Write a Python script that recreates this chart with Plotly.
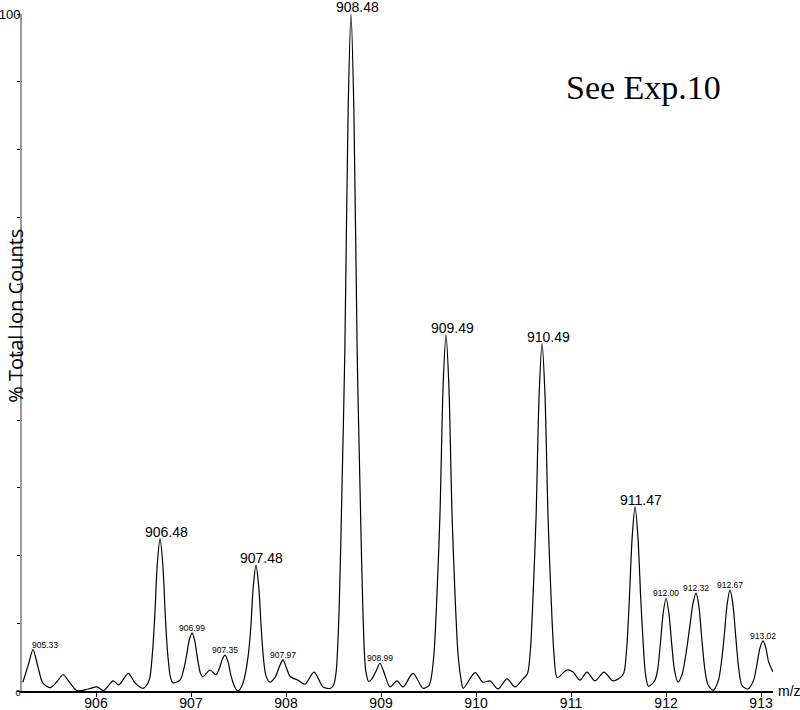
"""
Mass spectrum (profile) - % Total Ion Counts vs m/z
"""

import plotly.graph_objects as go

# profile trace (m/z, % total ion counts)
mz = [
    905.23, 905.29, 905.337, 905.39, 905.44, 905.516, 905.59, 905.653, 905.72, 905.80,
    905.92, 906.01, 906.08, 906.18, 906.24, 906.34, 906.41, 906.495, 906.53, 906.564,
    906.594, 906.619, 906.644, 906.674, 906.704, 906.729, 906.754, 906.784, 906.81, 906.884,
    906.93, 906.956, 906.981, 907.011, 907.041, 907.066, 907.10, 907.126, 907.20, 907.263,
    907.30, 907.33, 907.358, 907.39, 907.42, 907.46, 907.495, 907.53, 907.56, 907.60,
    907.629, 907.654, 907.684, 907.714, 907.739, 907.764, 907.79, 907.83, 907.884, 907.93,
    907.968, 908.0, 908.04, 908.074, 908.126, 908.20, 908.295, 908.39, 908.47, 908.504,
    908.529, 908.559, 908.589, 908.619, 908.654, 908.684, 908.714, 908.749, 908.779, 908.809,
    908.839, 908.87, 908.905, 908.95, 908.989, 909.03, 909.095, 909.168, 909.232, 909.337,
    909.442, 909.504, 909.529, 909.559, 909.589, 909.621, 909.654, 909.684, 909.714, 909.747,
    909.779, 909.809, 909.839, 909.866, 909.99, 910.074, 910.147, 910.232, 910.326, 910.41,
    910.495, 910.54, 910.57, 910.60, 910.632, 910.665, 910.695, 910.725, 910.758, 910.79,
    910.82, 910.855, 910.958, 911.021, 911.095, 911.168, 911.253, 911.347, 911.442, 911.547,
    911.584, 911.614, 911.644, 911.674, 911.704, 911.734, 911.764, 911.784, 911.815, 911.88,
    911.91, 911.94, 911.97, 912.0, 912.03, 912.06, 912.09, 912.126, 912.17, 912.21,
    912.25, 912.285, 912.316, 912.346, 912.376, 912.406, 912.44, 912.495, 912.55, 912.585,
    912.615, 912.645, 912.674, 912.704, 912.734, 912.764, 912.80, 912.863, 912.92, 912.955,
    912.99, 913.021, 913.05, 913.08, 913.126,
]
counts = [
    1.3, 4.0, 6.1, 3.5, 1.2, 0.5, 1.4, 2.4, 1.3, 0.05,
    0.3, 0.6, 0.05, 1.5, 0.9, 2.6, 1.2, 0.4, 0.8, 1.8,
    5.6, 11.2, 18.5, 22.5, 18.5, 11.2, 5.6, 2.0, 1.2, 1.6,
    3.6, 5.5, 7.5, 8.6, 7.3, 5.0, 2.6, 2.1, 3.1, 2.4,
    3.4, 4.7, 5.3, 4.3, 2.3, 0.6, 0.0, 0.6, 1.8, 5.0,
    9.3, 15.2, 18.6, 15.2, 9.3, 4.6, 2.2, 1.3, 2.0, 3.6,
    4.6, 3.6, 2.2, 1.9, 1.6, 1.0, 2.8, 0.6, 0.4, 1.0,
    3.0, 12.0, 30.0, 50.0, 86.0, 100.0, 86.0, 50.0, 30.0, 12.0,
    3.0, 1.4, 1.8, 3.0, 4.1, 2.8, 0.6, 1.5, 0.6, 2.6,
    0.4, 0.8, 2.0, 5.8, 14.2, 26.3, 45.2, 52.6, 45.2, 26.3,
    14.2, 5.8, 2.0, 0.4, 2.7, 1.3, 1.5, 0.3, 1.8, 0.6,
    1.8, 2.5, 5.6, 13.9, 25.7, 44.1, 51.3, 44.1, 25.7, 13.9,
    5.6, 2.0, 3.1, 2.8, 1.6, 2.8, 1.5, 2.8, 1.5, 2.4,
    6.0, 13.6, 22.8, 27.2, 22.8, 13.6, 6.0, 2.5, 0.7, 1.5,
    3.0, 6.9, 11.5, 13.7, 11.5, 6.9, 3.0, 1.3, 2.5, 5.5,
    9.5, 13.0, 14.5, 12.5, 7.8, 3.5, 1.0, 0.1, 1.5, 4.5,
    8.5, 13.0, 14.9, 12.8, 8.0, 3.5, 0.8, 0.3, 1.5, 3.8,
    6.4, 7.4, 6.4, 4.3, 2.8,
]

# peak labels: text, peak position, peak height
major_labels = ['906.48', '907.48', '908.48', '909.49', '910.49', '911.47']
major_x = [906.674, 907.684, 908.684, 909.684, 910.695, 911.674]
major_y = [22.5, 18.6, 100.0, 52.6, 51.3, 27.2]

minor_labels = ['905.33', '906.99', '907.35', '907.97', '908.99',
                '912.00', '912.32', '912.67', '913.02']
minor_x = [905.337, 907.011, 907.358, 907.968, 908.989,
           912.0, 912.316, 912.674, 913.021]
minor_y = [6.1, 8.6, 5.3, 4.6, 4.1, 13.7, 14.5, 14.9, 7.4]

x_ticks = [906, 907, 908, 909, 910, 911, 912, 913]
y_ticks = [0, 10, 20, 30, 40, 50, 60, 70, 80, 90, 100]
y_ticktext = ['<span style="font-size:9px">0</span>', '', '', '', '', '',
              '', '', '', '', '100']

fig = go.Figure()

fig.add_trace(
    go.Scatter(
        x=mz,
        y=counts,
        mode='lines',
        line=dict(color='black', width=1.2, shape='spline', smoothing=0.8),
        showlegend=False,
        hoverinfo='skip',
    )
)

annotations = []
for txt, px, py in zip(major_labels, major_x, major_y):
    annotations.append(dict(
        x=px, y=py, xref='x', yref='y', text=txt, showarrow=False,
        xanchor='center', yanchor='bottom', xshift=6, yshift=-3,
        font=dict(family='Liberation Sans, Arial', size=14, color='black'),
    ))
for txt, px, py in zip(minor_labels, minor_x, minor_y):
    shift = 12 if txt == '905.33' else 0
    annotations.append(dict(
        x=px, y=py, xref='x', yref='y', text=txt, showarrow=False,
        xanchor='center', yanchor='bottom', xshift=shift, yshift=-2,
        font=dict(family='Liberation Sans, Arial', size=8.5, color='black'),
    ))

# axis title / m/z / experiment note
annotations.append(dict(
    x=-0.0293, y=0.555, xref='paper', yref='paper', text='% Total Ion Counts',
    textangle=-90, showarrow=False, xanchor='left', yanchor='middle',
    font=dict(family='Open Sans', size=20, color='black'),
))
annotations.append(dict(
    x=1, y=0, xref='paper', yref='paper', text='m/z', showarrow=False,
    xanchor='left', yanchor='middle', xshift=3,
    font=dict(family='Liberation Sans, Arial', size=14, color='black'),
))
annotations.append(dict(
    x=0.8276, y=0.892, xref='paper', yref='paper', text='See Exp.10',
    showarrow=False, xanchor='center', yanchor='middle',
    font=dict(family='Liberation Serif, Times New Roman', size=34, color='black'),
))

fig.update_xaxes(
    range=[905.221, 913.126],
    tickvals=x_ticks,
    ticks='outside', ticklen=4, tickcolor='black', tickwidth=1,
    showline=True, linecolor='black', linewidth=1.5,
    showgrid=False, zeroline=False, automargin=False,
    ticklabelstandoff=-6,
    tickfont=dict(family='Liberation Sans, Arial', size=14, color='black'),
)
fig.update_yaxes(
    range=[0, 100],
    tickvals=y_ticks, ticktext=y_ticktext,
    ticks='outside', ticklen=3, tickcolor='black', tickwidth=1,
    showline=True, linecolor='#9a9a9a', linewidth=2,
    showgrid=False, zeroline=False, automargin=False,
    ticklabelstandoff=-6,
    tickfont=dict(family='Liberation Sans, Arial', size=13, color='black'),
)

fig.update_layout(
    width=800, height=710,
    margin=dict(l=22, r=27, t=14, b=19),
    plot_bgcolor='white', paper_bgcolor='white',
    annotations=annotations,
)

# drop the default page margin so the figure sits at the window corner
fig.write_html('out.html', config={'displayModeBar': False},
               post_script="document.body.style.margin='0';")
print('saved out.html')
